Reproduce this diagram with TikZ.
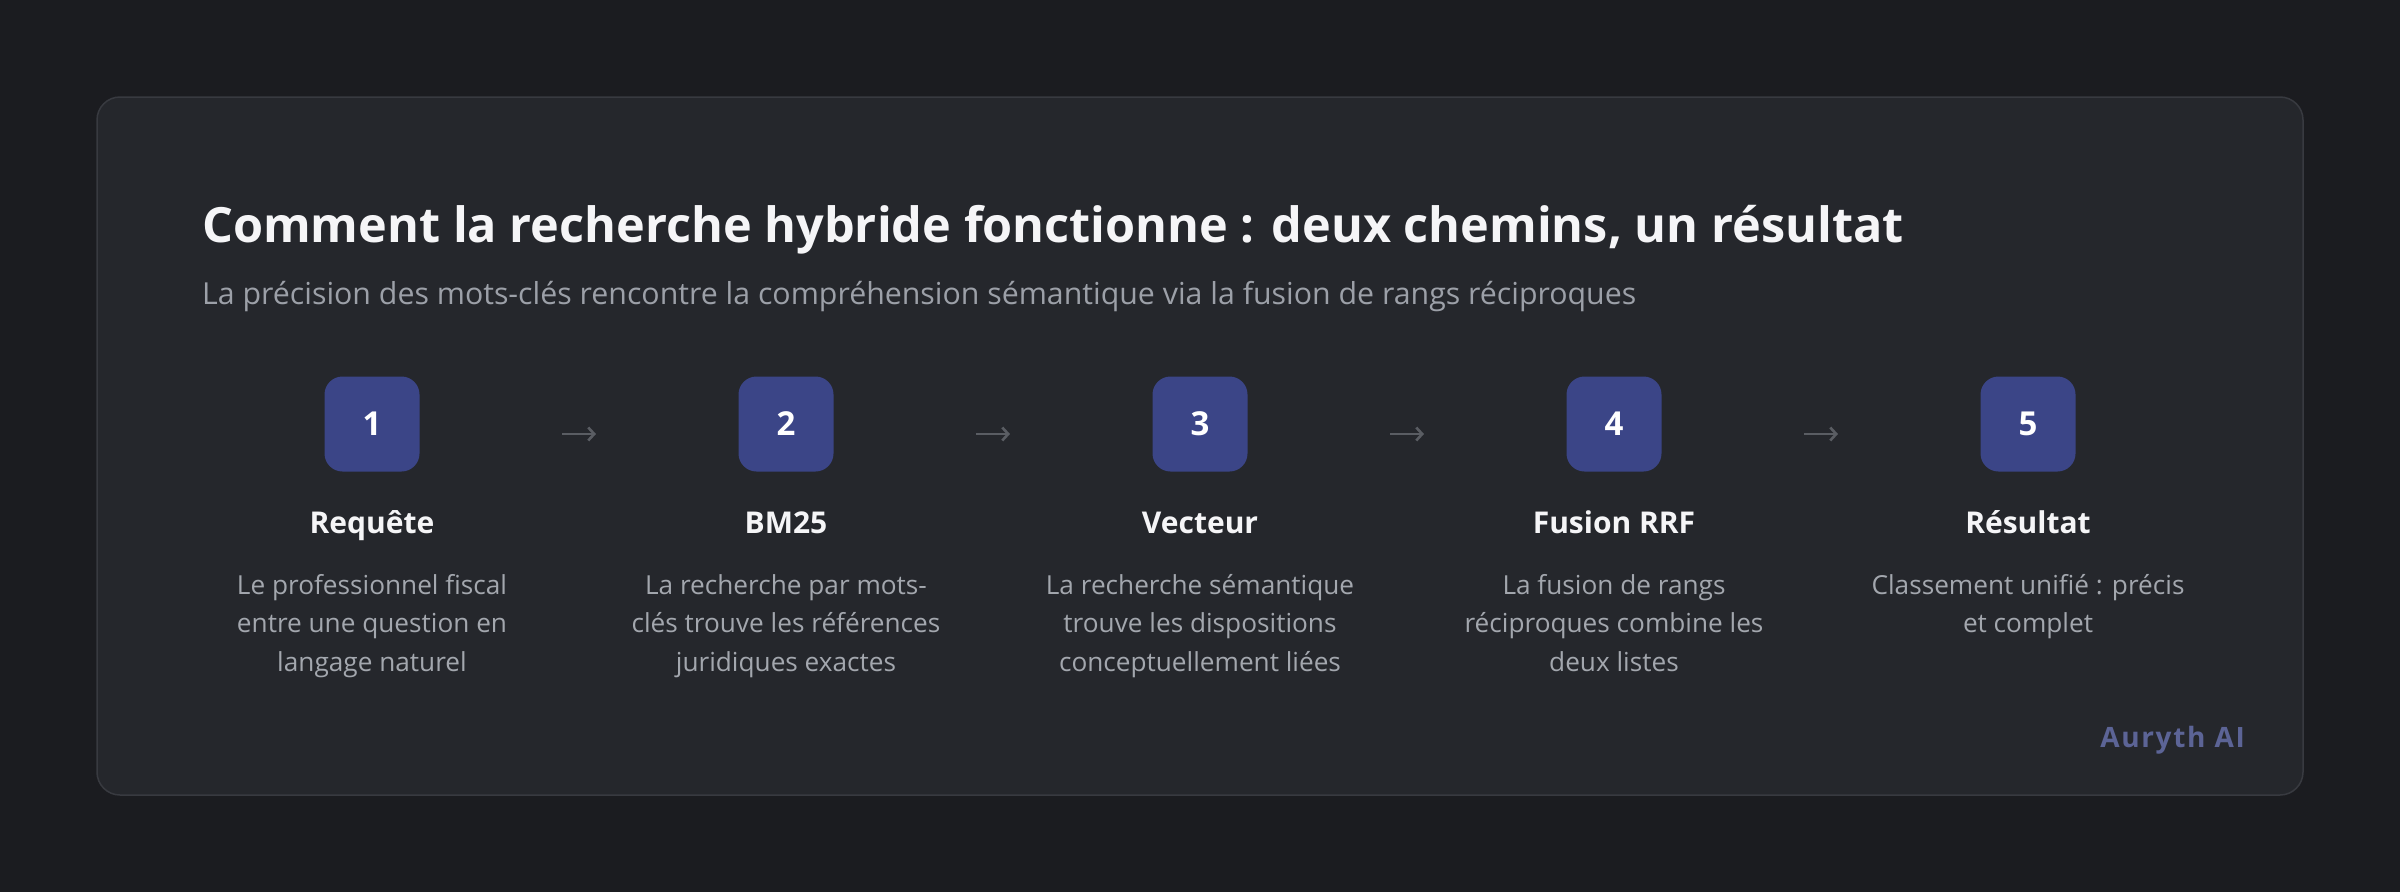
\documentclass[tikz,border=0pt]{standalone}
\usepackage{fontspec}
\setmainfont{Open Sans}
\usetikzlibrary{calc}
\usetikzlibrary{arrows.meta}
\usetikzlibrary{positioning}

\definecolor{pagebg}{HTML}{1B1C20}
\definecolor{cardbg}{HTML}{25272C}
\definecolor{cardline}{HTML}{383A40}
\definecolor{stepfill}{HTML}{3B4587}
\definecolor{titlecol}{HTML}{F5F5F7}
\definecolor{subcol}{HTML}{9CA0A8}
\definecolor{desccol}{HTML}{A3A7AE}
\definecolor{arrowcol}{HTML}{5A5D63}
\definecolor{brandcol}{HTML}{5C6496}

\tikzset{
  stepbox/.style={fill=stepfill,rounded corners=18pt,minimum width=95pt,minimum height=95pt,
    inner sep=0pt,text=white,font=\fontsize{33}{38}\selectfont\bfseries},
  steplabel/.style={text=titlecol,inner sep=0pt,font=\fontsize{30}{38}\selectfont\bfseries},
  stepdesc/.style={text=desccol,inner sep=0pt,align=center,font=\fontsize{26.2}{38.5}\selectfont},
  flow/.style={arrowcol,line width=2.6pt,-{Straight Barb[length=6pt,width=13pt]}}
}

\begin{document}
\begin{tikzpicture}[x=1pt,y=-1pt]

\useasboundingbox (0,0) rectangle (2400,892);
\fill[pagebg] (0,0) rectangle (2400,892);
\draw[cardline,fill=cardbg,line width=1.5pt,rounded corners=23pt] (97,97) rectangle (2303,795);

\node[anchor=base west,text=titlecol,inner sep=0pt,font=\fontsize{48.6}{58}\selectfont\bfseries] (title) at (202,242)
  {Comment la recherche hybride fonctionne : deux chemins, un résultat};
\node[anchor=base west,text=subcol,inner sep=0pt,font=\fontsize{30.3}{36}\selectfont] (subtitle) at (202,304)
  {La précision des mots-clés rencontre la compréhension sémantique via la fusion de rangs réciproques};

% steps
\node[stepbox] (s1) at (372,424) {1};
\node[stepbox] (s2) at (786,424) {2};
\node[stepbox] (s3) at (1200,424) {3};
\node[stepbox] (s4) at (1614,424) {4};
\node[stepbox] (s5) at (2028,424) {5};

\node[steplabel,anchor=base] (l1) at ($(s1)+(0,109)$) {Requête};
\node[steplabel,anchor=base] (l2) at ($(s2)+(0,109)$) {BM25};
\node[steplabel,anchor=base] (l3) at ($(s3)+(0,109)$) {Vecteur};
\node[steplabel,anchor=base] (l4) at ($(s4)+(0,109)$) {Fusion RRF};
\node[steplabel,anchor=base] (l5) at ($(s5)+(0,109)$) {Résultat};

\node[stepdesc,anchor=north] (d1) at ($(s1)+(0,150)$) {Le professionnel fiscal\\entre une question en\\langage naturel};
\node[stepdesc,anchor=north] (d2) at ($(s2)+(0,150)$) {La recherche par mots-\\clés trouve les références\\juridiques exactes};
\node[stepdesc,anchor=north] (d3) at ($(s3)+(0,150)$) {La recherche sémantique\\trouve les dispositions\\conceptuellement liées};
\node[stepdesc,anchor=north] (d4) at ($(s4)+(0,150)$) {La fusion de rangs\\réciproques combine les\\deux listes};
\node[stepdesc,anchor=north] (d5) at ($(s5)+(0,150)$) {Classement unifié : précis\\et complet};

% arrows between steps
\foreach \a/\b in {s1/s2,s2/s3,s3/s4,s4/s5}{
  \coordinate (m) at ($(\a.east)!0.5!(\b.west)+(0,10)$);
  \draw[flow] ($(m)+(-17,0)$) -- ($(m)+(17,0)$);
}

\node[anchor=base east,text=brandcol,inner sep=0pt,font=\fontsize{28}{34}\selectfont\bfseries\addfontfeatures{LetterSpace=6}] (brand) at (2245,747) {Auryth AI};

\end{tikzpicture}
\end{document}
